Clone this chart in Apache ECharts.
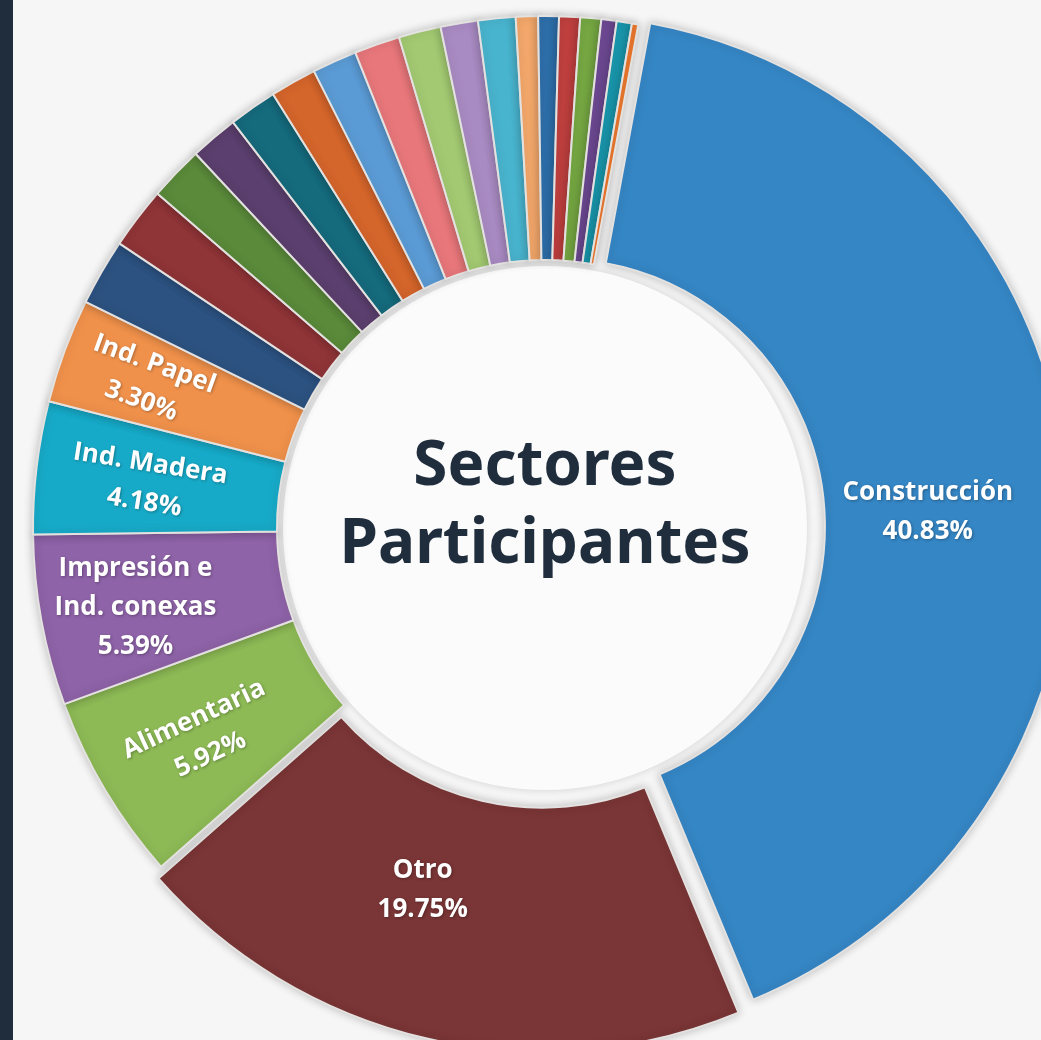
<!DOCTYPE html>
<html>
<head>
<meta charset="utf-8">
<script src="https://cdn.jsdelivr.net/npm/echarts@6/dist/echarts.min.js"></script>
<style>
html,body{margin:0;padding:0;background:#f6f6f6;}
#strip{position:absolute;left:0;top:0;width:13px;height:1040px;background:#1f2d3d;}
#chart{position:absolute;left:0;top:0;width:1041px;height:1040px;}
</style>
</head>
<body>
<div id="chart"></div>
<div id="strip"></div>
<script>
// Main labelled sectors (percent)
const mainNames = ['Construcción', 'Otro', 'Alimentaria', 'Impresión e\nInd. conexas', 'Ind. Madera', 'Ind. Papel'];
const mainValues = [40.83, 19.75, 5.92, 5.39, 4.18, 3.30];
const mainColors = ['#3586c5', '#7a3536', '#8dba55', '#8e63a8', '#17aac8', '#f0914b'];
const mainRotate = [0, 0, 25, 0, -9, -20];
const mainLabelShift = [[-20, 27], [-31, -32], [-8, 5], [-23, 8], [-7, 3], [-30, 1]];
// Small unlabelled sectors (percent, estimated), clockwise after Ind. Papel
const smallValues = [2.10, 1.95, 1.72, 1.52, 1.52, 1.46, 1.41, 1.44, 1.33, 1.18, 1.18, 0.70, 0.65, 0.66, 0.66, 0.48, 0.48, 0.20];
const smallColors = ['#2c5281', '#8f3437', '#5a8a3a', '#5b3f6e', '#156a7c', '#d4652b', '#5b9bd5', '#e8777b', '#a3ca72', '#a98bc3', '#49b4ce', '#f4a86b', '#2e6faa', '#c0403f', '#76a843', '#6e4a94', '#1a98ae', '#ef7a2e'];
const centerTitle = ['Sectores', 'Participantes'];

const data = [];
mainNames.forEach((n, i) => {
  data.push({
    name: n,
    value: mainValues[i],
    selected: i < 2,
    itemStyle: { color: mainColors[i] },
    label: { show: true, rotate: mainRotate[i] }
  });
});
smallValues.forEach((v, i) => {
  data.push({
    name: 'Sector ' + (i + 1),
    value: v,
    itemStyle: { color: smallColors[i] },
    label: { show: false }
  });
});

const chart = echarts.init(document.getElementById('chart'));
chart.setOption({
  backgroundColor: '#f6f6f6',
  animation: false,
  series: [{
    type: 'pie',
    center: [545, 528],
    radius: [268, 512],
    startAngle: 79.5,
    clockwise: true,
    selectedMode: 'multiple',
    selectedOffset: 12,
    avoidLabelOverlap: false,
    data: data,
    itemStyle: {
      borderColor: '#e4e2e0',
      borderWidth: 2,
      shadowBlur: 10,
      shadowColor: 'rgba(0,0,0,0.22)'
    },
    label: {
      position: 'inside',
      color: '#ffffff',
      fontFamily: 'Open Sans',
      fontWeight: 'bold',
      fontSize: 26,
      lineHeight: 39,
      textShadowColor: 'rgba(0,0,0,0.3)',
      textShadowBlur: 3,
      textShadowOffsetX: 1,
      textShadowOffsetY: 1,
      formatter: p => p.name + '\n' + p.value.toFixed(2) + '%'
    },
    labelLayout: function (params) {
      const s = mainLabelShift[params.dataIndex];
      return s ? { dx: s[0], dy: s[1] } : {};
    },
    labelLine: { show: false },
    emphasis: { disabled: true }
  }],
  graphic: [
    {
      type: 'circle',
      shape: { cx: 545, cy: 528, r: 262 },
      style: { fill: '#fbfbfb', shadowBlur: 8, shadowColor: 'rgba(0,0,0,0.15)' },
      z: -1
    },
    {
      type: 'text',
      x: 545, y: 467,
      style: {
        text: centerTitle[0], fill: '#1f2d3d', font: 'bold 62px "Noto Sans"',
        align: 'center', verticalAlign: 'middle'
      }
    },
    {
      type: 'text',
      x: 545, y: 545,
      style: {
        text: centerTitle[1], fill: '#1f2d3d', font: 'bold 62px "Noto Sans"',
        align: 'center', verticalAlign: 'middle'
      }
    }
  ]
});
</script>
</body>
</html>
